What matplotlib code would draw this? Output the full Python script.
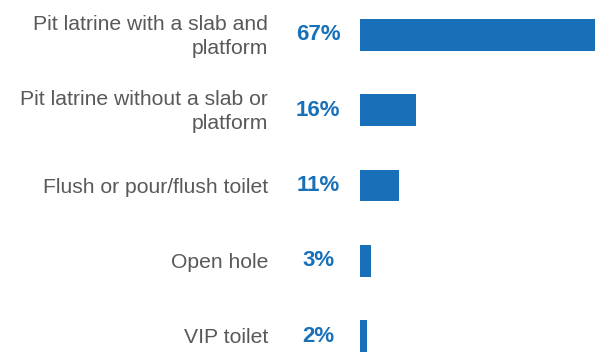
import matplotlib.pyplot as plt

categories = [
    "Pit latrine with a slab and\nplatform",
    "Pit latrine without a slab or\nplatform",
    "Flush or pour/flush toilet",
    "Open hole",
    "VIP toilet",
]
values = [67, 16, 11, 3, 2]
labels = ["67%", "16%", "11%", "3%", "2%"]

blue = "#1770b8"
grey = "#595959"

fig = plt.figure(figsize=(5.95, 3.52), dpi=100)
ax = fig.add_axes([360 / 595, 0, 235 / 595, 1])

ypos = list(range(len(values)))
ax.barh(ypos, values, height=0.425, color=blue)
ax.set_xlim(0, 67)
ax.set_ylim(4.2125, -0.465)
ax.axis("off")

for y, cat, lab in zip(ypos, categories, labels):
    ax.annotate(lab, xy=(0, y), xytext=(-30, 0), textcoords="offset points",
                ha="center", va="center", fontsize=16, fontweight="bold",
                color=blue, family="Liberation Sans")
    ax.annotate(cat, xy=(0, y + 0.02), xytext=(-66, 0), textcoords="offset points",
                ha="right", va="center", fontsize=15.2, color=grey,
                family="Liberation Sans", linespacing=1.35)

fig.savefig("out.png", dpi=100)
